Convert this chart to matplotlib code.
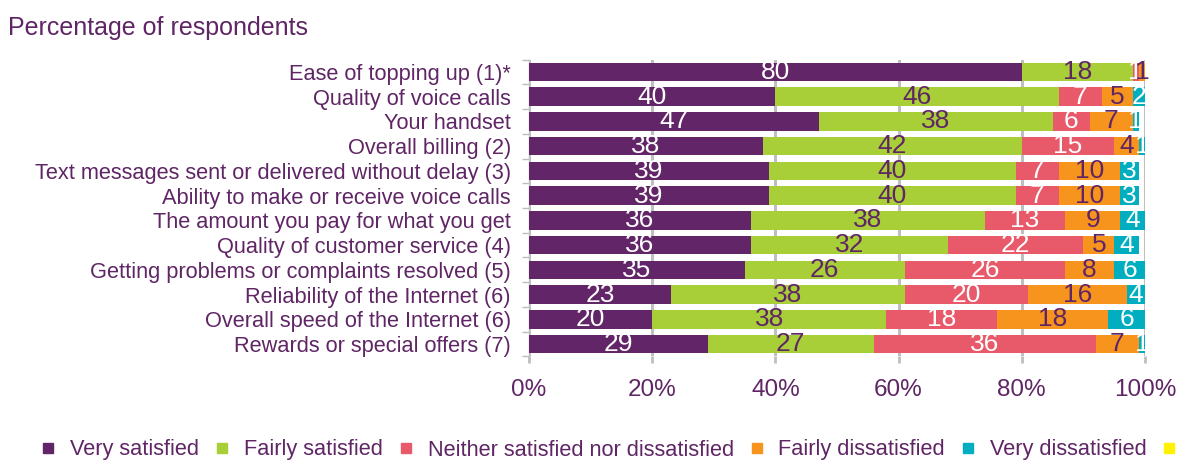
import matplotlib.pyplot as plt
from matplotlib.lines import Line2D
import numpy as np

plt.rcParams['font.family'] = ['Liberation Sans', 'DejaVu Sans']

categories = [
    "Ease of topping up (1)*",
    "Quality of voice calls",
    "Your handset",
    "Overall billing (2)",
    "Text messages sent or delivered without delay (3)",
    "Ability to make or receive voice calls",
    "The amount you pay for what you get",
    "Quality of customer service (4)",
    "Getting problems or complaints resolved (5)",
    "Reliability of the Internet (6)",
    "Overall speed of the Internet (6)",
    "Rewards or special offers (7)",
]

very_satisfied = [80, 40, 47, 38, 39, 39, 36, 36, 35, 23, 20, 29]
fairly_satisfied = [18, 46, 38, 42, 40, 40, 38, 32, 26, 38, 38, 27]
neither = [1, 7, 6, 15, 7, 7, 13, 22, 26, 20, 18, 36]
fairly_dissatisfied = [1, 5, 7, 4, 10, 10, 9, 5, 8, 16, 18, 7]
very_dissatisfied = [0, 2, 1, 1, 3, 3, 4, 4, 6, 4, 6, 1]
dont_know = [0, 0, 0, 0, 0, 0, 0, 0, 0, 0, 0, 0]

series = [
    ("Very satisfied", very_satisfied, "#622567", "white"),
    ("Fairly satisfied", fairly_satisfied, "#a8cf38", "#5f2565"),
    ("Neither satisfied nor dissatisfied", neither, "#e8596a", "white"),
    ("Fairly dissatisfied", fairly_dissatisfied, "#f7941e", "#5f2565"),
    ("Very dissatisfied", very_dissatisfied, "#00aec0", "white"),
    ("Don't know", dont_know, "#fff200", "#5f2565"),
]

text_col = "#5f2565"
grid_col = "#bfbfbf"

fig = plt.figure(figsize=(11.79, 4.62), dpi=100)
ax = fig.add_axes([529 / 1179, 1 - 356.4 / 462, 616 / 1179, 296.8 / 462])

y = np.arange(len(categories))
left = np.zeros(len(categories))
for name, vals, col, lcol in series:
    vals = np.array(vals, dtype=float)
    bars = ax.barh(y, vals, left=left, height=0.75, color=col, zorder=3)
    labels = [f"{int(v)}" if v > 0 else "" for v in vals]
    ax.bar_label(bars, labels=labels, label_type='center', color=lcol,
                 fontsize=19, zorder=4)
    left += vals

ax.set_xlim(0, 100)
ax.set_ylim(len(categories) - 0.5, -0.5)
ax.set_xticks(range(0, 101, 20))
ax.set_xticklabels([f"{v}%" for v in range(0, 101, 20)])
ax.set_yticks(y)
ax.set_yticklabels(categories)
ax.set_yticks(np.arange(-0.5, len(categories), 1), minor=True)

# category names sit a little left of the axis, boundary ticks point outwards
ax.tick_params(axis='y', which='major', length=0, pad=13, labelsize=15.7,
               labelcolor=text_col)
ax.tick_params(axis='y', which='minor', length=5, width=1, color=grid_col,
               direction='out')
ax.tick_params(axis='x', length=5, width=2, color=grid_col, pad=11,
               labelsize=17.5, labelcolor=text_col)

ax.grid(axis='x', color=grid_col, linewidth=2.2, zorder=0)
for s in ['top', 'right', 'bottom']:
    ax.spines[s].set_visible(False)
ax.spines['left'].set_color(grid_col)
ax.spines['left'].set_linewidth(1)

fig.text(0.007, 0.965, "Percentage of respondents", fontsize=18,
         color=text_col, va='top', ha='left')

handles = [Line2D([], [], marker='s', linestyle='none', markersize=6.5,
                  markerfacecolor=col, markeredgecolor=col)
           for _, _, col, _ in series]
fig.legend(handles, [s[0] for s in series], loc='center left',
           bbox_to_anchor=(43 / 1179, 1 - 450 / 462), ncol=6, frameon=False,
           fontsize=15.7, labelcolor=text_col, handlelength=0.5,
           handletextpad=0.75, columnspacing=0.8, borderpad=0,
           borderaxespad=0)

fig.savefig("out.png", dpi=100)
